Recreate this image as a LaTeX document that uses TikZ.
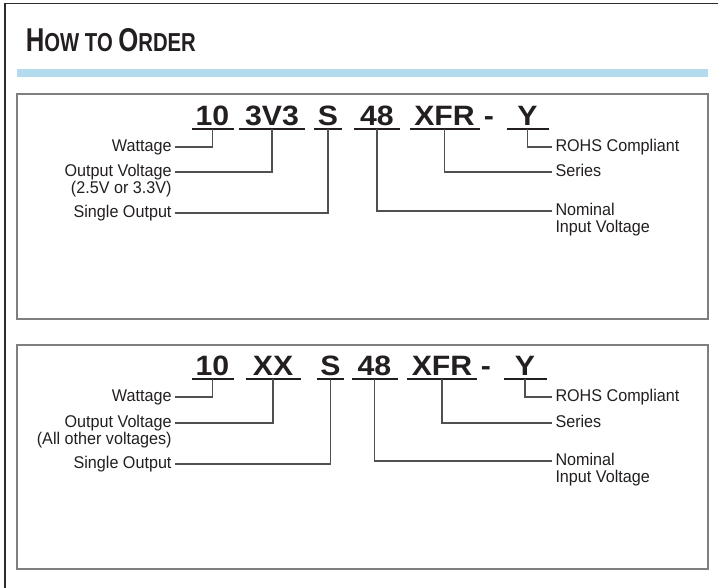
\documentclass[tikz,border=0pt]{standalone}
\usepackage{fontspec}
\setmainfont{Liberation Sans}
\newfontfamily\codefont{Liberation Sans}[FakeStretch=1.08]
\newfontfamily\titlefont{Liberation Sans}[FakeStretch=0.78]
\newfontfamily\labfont{Liberation Sans}[FakeStretch=0.95]
\usetikzlibrary{positioning}
\definecolor{cink}{HTML}{231F20}
\definecolor{cline}{HTML}{505050}
\definecolor{cgrey}{HTML}{7F7F7F}
\definecolor{cframe}{HTML}{2C2C2C}
\definecolor{cbar}{HTML}{B4DAEE}
\newcommand{\tbig}[1]{{\fontsize{33}{33}\selectfont #1}}
\newcommand{\tsml}[1]{{\fontsize{26}{26}\selectfont #1}}
\tikzset{
  every picture/.style={line width=1pt},
  code/.style={font=\codefont\bfseries\fontsize{28}{28}\selectfont, text=cink, minimum width=#1, inner xsep=0pt, inner ysep=3pt, text depth=0pt, anchor=south},
  code/.default=10pt,
  lab/.style={font=\labfont\fontsize{17}{17}\selectfont, text=cink, inner xsep=3pt, inner ysep=0pt, text height=11.5pt, text depth=3pt},
  labl/.style={lab, anchor=east},
  labr/.style={lab, anchor=west},
  link/.style={draw=cline, line width=1.1pt},
  uline/.style={draw=cink, line width=2.5pt},
  panel/.style={draw=cgrey, line width=1.5pt},
  title/.style={font=\titlefont\bfseries, text=cink, anchor=base west},
}
\begin{document}
\begin{tikzpicture}[x=1pt, y=-1pt]
  \useasboundingbox (0,0) rectangle (718,588);

  % frame and heading
  \draw[cframe, line width=1.5pt] (5,588) -- (5,3.5) -- (718,3.5);
  \node[title] (ttl) at (22,52) {\tbig{H}\tsml{OW TO\ }\tbig{O}\tsml{RDER}};
  \fill[cbar] (17,69) rectangle (708,77);
  \draw[panel] (17,94) rectangle (708,319);
  \draw[panel] (17,345) rectangle (708,569);

  % first panel: 10 3V3 S 48 XFR - Y
  \node[code=41pt] (c10)  at (212.5,129) {10};
  \node[code=65pt] (cv)   at (272,129)   {3V3};
  \node[code=27pt] (cs)   at (328,129)   {S};
  \node[code=45pt] (c48)  at (377,129)   {48};
  \node[code=69pt] (cxfr) at (444.5,129) {XFR};
  \node[code]      (hy1)  at (489,129)   {-};
  \node[code=41pt] (cy)   at (527.5,129) {Y};
  \foreach \n in {c10, cv, cs, c48, cxfr, cy} \draw[uline] (\n.south west) -- (\n.south east);

  \node[labl] (wat1) at (175,147) {Wattage};
  \node[labl] (out1) at (175,172) {Output Voltage};
  \node[labl] (rng1) at (175,189) {(2.5V or 3.3V)};
  \node[labl] (sgl1) at (175,213) {Single Output};
  \node[labr] (roh1) at (552,147) {ROHS Compliant};
  \node[labr] (ser1) at (552,172) {Series};
  \node[labr] (nom1) at (552,211) {Nominal};
  \node[labr] (inp1) at (552,228) {Input Voltage};

  \draw[link] (c10.south) |- (wat1.east);
  \draw[link] (cv.south) |- (out1.east);
  \draw[link] (cs.south) |- (sgl1.east);
  \draw[link] (c48.south) |- (nom1.west);
  \draw[link] (cxfr.south) |- (ser1.west);
  \draw[link] (cy.south) |- (roh1.west);

  % second panel: 10 XX S 48 XFR - Y
  \node[code=41pt] (d10)  at (212.5,379) {10};
  \node[code=54pt] (dv)   at (273,379)   {XX};
  \node[code=26pt] (ds)   at (330.5,379) {S};
  \node[code=45pt] (d48)  at (374.5,379) {48};
  \node[code=69pt] (dxfr) at (442,379)   {XFR};
  \node[code]      (hy2)  at (486,379)   {-};
  \node[code=42pt] (dy)   at (525,379)   {Y};
  \foreach \n in {d10, dv, ds, d48, dxfr, dy} \draw[uline] (\n.south west) -- (\n.south east);

  \node[labl] (wat2) at (175,397) {Wattage};
  \node[labl] (out2) at (175,423) {Output Voltage};
  \node[labl] (rng2) at (175,440) {(All other voltages)};
  \node[labl] (sgl2) at (175,464) {Single Output};
  \node[labr] (roh2) at (552,397) {ROHS Compliant};
  \node[labr] (ser2) at (552,423) {Series};
  \node[labr] (nom2) at (552,461) {Nominal};
  \node[labr] (inp2) at (552,478) {Input Voltage};

  \draw[link] (d10.south) |- (wat2.east);
  \draw[link] (dv.south) |- (out2.east);
  \draw[link] (ds.south) |- (sgl2.east);
  \draw[link] (d48.south) |- (nom2.west);
  \draw[link] (dxfr.south) |- (ser2.west);
  \draw[link] (dy.south) |- (roh2.west);
\end{tikzpicture}
\end{document}
